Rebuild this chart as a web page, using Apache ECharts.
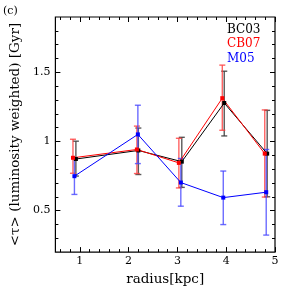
<!DOCTYPE html>
<html><head><meta charset="utf-8">
<script src="https://cdn.jsdelivr.net/npm/echarts@6/dist/echarts.min.js"></script>
<style>html,body{margin:0;padding:0;background:#fff}#c{width:291px;height:291px}</style>
</head><body><div id="c"></div>
<script>
// ---- data ----
var seriesNames = ['BC03', 'CB07', 'M05'];
var bc03X = [0.92, 2.20, 3.09, 3.96, 4.84];
var bc03Y = [0.873, 0.935, 0.854, 1.278, 0.912];
var bc03Lo = [0.75, 0.761, 0.668, 1.04, 0.60];
var bc03Hi = [1.002, 1.097, 1.03, 1.508, 1.225];

var cb07X = [0.86, 2.17, 3.03, 3.92, 4.79];
var cb07Y = [0.882, 0.942, 0.845, 1.313, 0.912];
var cb07Lo = [0.77, 0.768, 0.664, 1.081, 0.598];
var cb07Hi = [1.016, 1.111, 1.023, 1.552, 1.228];

var m05X = [0.89, 2.19, 3.07, 3.94, 4.82];
var m05Y = [0.749, 1.051, 0.703, 0.594, 0.633];
var m05Lo = [0.617, 0.84, 0.532, 0.399, 0.323];
var m05Hi = [0.88, 1.262, 0.877, 0.786, 0.942];

var xMajor = [1, 2, 3, 4, 5];
var xMinor = [0.6, 0.8, 1.2, 1.4, 1.6, 1.8, 2.2, 2.4, 2.6, 2.8, 3.2, 3.4, 3.6, 3.8, 4.2, 4.4, 4.6, 4.8];
var yMajor = [0.5, 1, 1.5];
var yMinor = [0.3, 0.4, 0.6, 0.7, 0.8, 0.9, 1.1, 1.2, 1.3, 1.4, 1.6, 1.7, 1.8];

// ---- helpers ----
function pts(xs, ys) { return xs.map(function (x, i) { return [x, ys[i]]; }); }
function errs(xs, lo, hi) { return xs.map(function (x, i) { return [x, lo[i], hi[i]]; }); }
function errSeries(data, color) {
  return {
    type: 'custom', xAxisIndex: 0, yAxisIndex: 0, data: data, silent: true,
    renderItem: function (params, api) {
      var x = api.value(0);
      var a = api.coord([x, api.value(1)]);
      var b = api.coord([x, api.value(2)]);
      var w = 3;
      var st = { stroke: color, lineWidth: 1.4 };
      return { type: 'group', children: [
        { type: 'line', shape: { x1: a[0], y1: a[1], x2: b[0], y2: b[1] }, style: st },
        { type: 'line', shape: { x1: a[0] - w, y1: a[1], x2: a[0] + w, y2: a[1] }, style: st },
        { type: 'line', shape: { x1: b[0] - w, y1: b[1], x2: b[0] + w, y2: b[1] }, style: st }
      ]};
    }
  };
}
function lineSeries(name, data, color) {
  return { name: name, type: 'line', xAxisIndex: 0, yAxisIndex: 0, data: data,
    symbol: 'rect', symbolSize: 4, itemStyle: { color: color },
    lineStyle: { color: color, width: 1 } };
}

var FONT = 'DejaVu Serif';
var xMin = 0.5, xMax = 5, yMin = 0.2, yMax = 1.9;
function xAx(pos, vals, len, labels, extra) {
  return Object.assign({ type: 'value', position: pos, min: xMin, max: xMax, gridIndex: 0,
    axisLine: { show: false }, splitLine: { show: false },
    axisTick: { show: true, inside: true, length: len, customValues: vals, lineStyle: { color: '#000', width: 1 } },
    axisLabel: labels ? { show: true, customValues: vals, color: '#000', fontFamily: FONT, fontSize: 11, margin: 4 } : { show: false }
  }, extra || {});
}
function yAx(pos, vals, len, labels, extra) {
  return Object.assign({ type: 'value', position: pos, min: yMin, max: yMax, gridIndex: 0,
    axisLine: { show: false }, splitLine: { show: false },
    axisTick: { show: true, inside: true, length: len, customValues: vals, lineStyle: { color: '#000', width: 1 } },
    axisLabel: labels ? { show: true, customValues: vals, color: '#000', fontFamily: FONT, fontSize: 11, margin: 5 } : { show: false }
  }, extra || {});
}

var chart = echarts.init(document.getElementById('c'));
chart.setOption({
  animation: false,
  backgroundColor: '#fff',
  grid: { left: 53, right: 16, top: 17, bottom: 31, show: true, borderColor: '#000', borderWidth: 1.2, backgroundColor: 'transparent' },
  xAxis: [
    xAx('bottom', xMajor, 5, true, { name: 'radius[kpc]', nameLocation: 'middle', nameGap: 17,
      nameTextStyle: { color: '#000', fontFamily: FONT, fontSize: 13.5 } }),
    xAx('bottom', xMinor, 3, false),
    xAx('top', xMajor, 5, false),
    xAx('top', xMinor, 3, false)
  ],
  yAxis: [
    yAx('left', yMajor, 5, true, { name: '<\u03C4> (luminosity weighted) [Gyr]', nameLocation: 'middle', nameGap: 32, nameRotate: 90,
      nameTextStyle: { color: '#000', fontFamily: FONT, fontSize: 13.5 } }),
    yAx('left', yMinor, 3, false),
    yAx('right', yMajor, 5, false),
    yAx('right', yMinor, 3, false)
  ],
  graphic: [
    { type: 'text', left: 3, top: 6, style: { text: '(c)', fill: '#000', font: '11px "DejaVu Serif"' } },
    { type: 'text', left: 227, top: 24, style: { text: seriesNames[0], fill: '#000', font: '12px "DejaVu Serif"' } },
    { type: 'text', left: 227, top: 38, style: { text: seriesNames[1], fill: '#ff0000', font: '12px "DejaVu Serif"' } },
    { type: 'text', left: 227, top: 52.5, style: { text: seriesNames[2], fill: '#0000ff', font: '12px "DejaVu Serif"' } }
  ],
  series: [
    errSeries(errs(bc03X, bc03Lo, bc03Hi), 'rgba(60,60,60,0.85)'),
    errSeries(errs(cb07X, cb07Lo, cb07Hi), 'rgba(255,60,60,0.8)'),
    lineSeries(seriesNames[0], pts(bc03X, bc03Y), '#000000'),
    lineSeries(seriesNames[1], pts(cb07X, cb07Y), '#ff0000'),
    errSeries(errs(m05X, m05Lo, m05Hi), 'rgba(70,70,255,0.8)'),
    lineSeries(seriesNames[2], pts(m05X, m05Y), '#0000ff')
  ]
});
</script></body></html>
